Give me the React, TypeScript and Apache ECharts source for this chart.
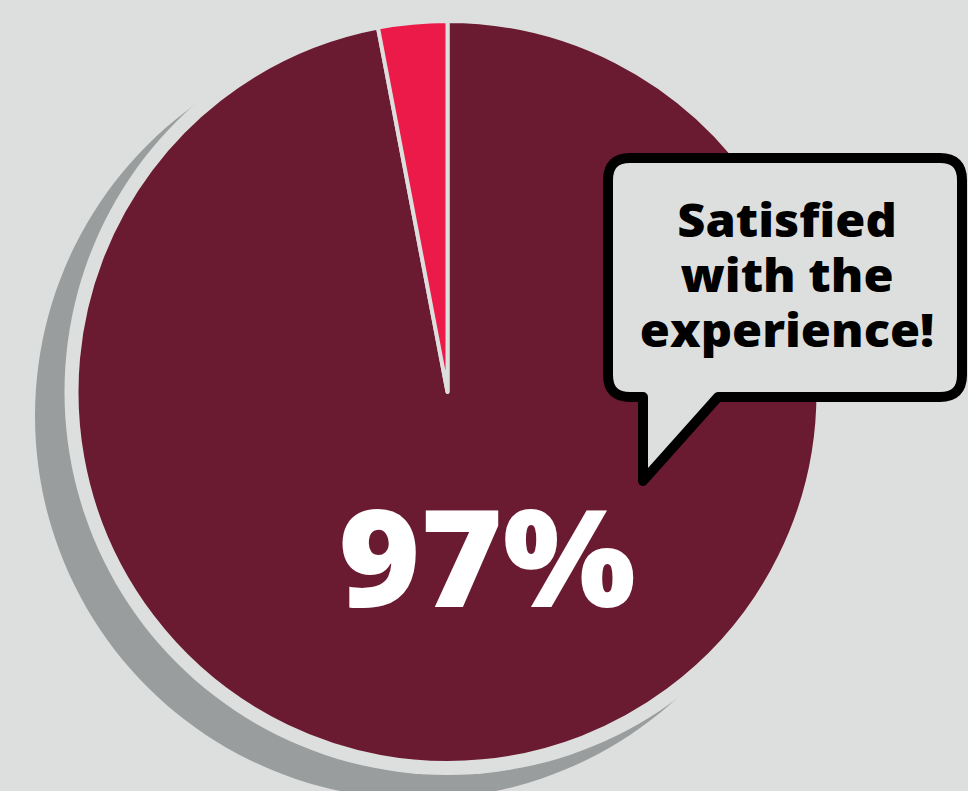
import React, { useEffect, useRef } from "react";
import * as echarts from "echarts";

const categories = ["Satisfied", "Not satisfied"];
const values = [97, 3];
const sliceColors = ["#6a1a31", "#eb1a48"];
const calloutLines = ["Satisfied", "with the", "experience!"];

const BG = "#dddfde";
const CX = 447.5;
const CY = 392;
const R = 371;

const L = 608, T = 158, RR = 962, B = 397, CR = 22;
const calloutPath =
  `M ${L + CR} ${T} H ${RR - CR} Q ${RR} ${T} ${RR} ${T + CR} V ${B - CR} Q ${RR} ${B} ${RR - CR} ${B} ` +
  `H 718 L 643 481 V ${B} H ${L + CR} Q ${L} ${B} ${L} ${B - CR} V ${T + CR} Q ${L} ${T} ${L + CR} ${T} Z`;

let registered = false;

export default function App() {
  const ref = useRef<HTMLDivElement>(null);
  useEffect(() => {
    if (!registered) {
      echarts.graphic.registerShape("callout", echarts.graphic.extendPath(calloutPath, {}));
      registered = true;
    }
    const chart = echarts.init(ref.current!, null, { renderer: "svg" });
    const lineTexts = calloutLines.map((t, i) => ({
      type: "text", z: 11, x: 787, y: 219 + i * 55, scaleX: 1.06,
      style: {
        text: t, fill: "#000", align: "center", verticalAlign: "middle",
        font: "800 46px 'Open Sans'",
      },
    }));
    chart.setOption({
      animation: false,
      backgroundColor: BG,
      graphic: [
        { type: "circle", z: 0, shape: { cx: CX - 29.5, cy: CY + 24, r: 383 }, style: { fill: "#9a9d9e" } },
        { type: "circle", z: 1, shape: { cx: CX, cy: CY, r: 383 }, style: { fill: BG } },
        {
          type: "callout", x: 0, y: 0, z: 10,
          style: { fill: BG, stroke: "#000", lineWidth: 10, lineJoin: "round" },
        },
        ...lineTexts,
        {
          type: "text", z: 11, x: 487, y: 555, scaleX: 1.04,
          style: {
            text: `${values[0]}%`, fill: "#fff", align: "center", verticalAlign: "middle",
            font: "800 135px 'Open Sans'",
          },
        },
      ],
      series: [
        {
          type: "pie",
          z: 2,
          center: [CX, CY],
          radius: R,
          startAngle: 90,
          clockwise: true,
          label: { show: false },
          labelLine: { show: false },
          emphasis: { disabled: true },
          itemStyle: { borderColor: BG, borderWidth: 4 },
          data: categories.map((c, i) => ({ name: c, value: values[i], itemStyle: { color: sliceColors[i] } })),
        },
      ],
    });
    return () => chart.dispose();
  }, []);
  return <div ref={ref} style={{ position: "fixed", left: 0, top: 0, width: 968, height: 791 }} />;
}
